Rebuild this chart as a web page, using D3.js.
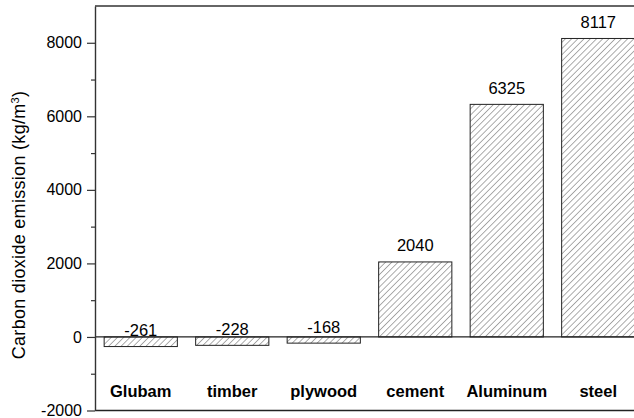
<!DOCTYPE html>
<html>
<head>
<meta charset="utf-8">
<script src="https://cdn.jsdelivr.net/npm/d3@7"></script>
<style>
  body { margin: 0; background: #fff; }
  svg { display: block; font-family: "Liberation Sans", Arial, sans-serif; }
</style>
</head>
<body>
<svg id="chart-svg"></svg>
<script>
const materials = ['Glubam', 'timber', 'plywood', 'cement', 'Aluminum', 'steel']
const emissions = [-261, -228, -168, 2040, 6325, 8117]
const majorTicks = [-2000, 0, 2000, 4000, 6000, 8000]
const minorTicks = [-1000, 1000, 3000, 5000, 7000]

const width = 634, height = 418
const margin = {left: 95, top: 6, right: -10, bottom: 7.5}

const svg = d3.select('#chart-svg')
    .attr('width', width)
    .attr('height', height)

const x = d3.scaleBand()
    .domain(materials)
    .range([margin.left, width - margin.right])
    .paddingInner(0.2)
    .paddingOuter(0.1)

const y = d3.scaleLinear()
    .domain([-2000, 9000])
    .range([height - margin.bottom, margin.top])

// hatch pattern for the bars
svg.append('defs').append('pattern')
    .attr('id', 'hatch')
    .attr('patternUnits', 'userSpaceOnUse')
    .attr('width', 4.4)
    .attr('height', 4.4)
    .attr('patternTransform', 'rotate(45)')
    .append('line')
    .attr('x1', 0).attr('y1', 0)
    .attr('x2', 0).attr('y2', 4.4)
    .attr('stroke', '#333')
    .attr('stroke-width', 0.8)

const data = materials.map((m, i) => ({name: m, value: emissions[i]}))

svg.append('g')
    .selectAll('rect')
    .data(data)
    .join('rect')
    .attr('x', d => x(d.name))
    .attr('width', x.bandwidth())
    .attr('y', d => y(Math.max(0, d.value)))
    .attr('height', d => Math.abs(y(d.value) - y(0)))
    .attr('fill', 'url(#hatch)')
    .attr('stroke', '#222')
    .attr('stroke-width', 1)

// value labels
svg.append('g')
    .selectAll('text')
    .data(data)
    .join('text')
    .attr('x', d => x(d.name) + x.bandwidth() / 2)
    .attr('y', d => y(d.value) - 10.5)
    .attr('text-anchor', 'middle')
    .attr('font-size', '16.5px')
    .attr('fill', '#000')
    .text(d => d.value)

// category labels
svg.append('g')
    .selectAll('text')
    .data(materials)
    .join('text')
    .attr('x', d => x(d) + x.bandwidth() / 2)
    .attr('y', 396.5)
    .attr('text-anchor', 'middle')
    .attr('font-size', '16.5px')
    .attr('font-weight', 'bold')
    .attr('fill', '#000')
    .text(d => d)

// zero line
svg.append('line')
    .attr('x1', margin.left).attr('x2', width)
    .attr('y1', y(0)).attr('y2', y(0))
    .attr('stroke', '#222')
    .attr('stroke-width', 1.2)

// frame top / bottom
svg.append('line')
    .attr('x1', margin.left).attr('x2', width)
    .attr('y1', y(9000)).attr('y2', y(9000))
    .attr('stroke', '#333').attr('stroke-width', 1.4)
svg.append('line')
    .attr('x1', margin.left).attr('x2', width)
    .attr('y1', y(-2000)).attr('y2', y(-2000))
    .attr('stroke', '#222').attr('stroke-width', 1.4)

// y axis
const yAxis = svg.append('g')
    .attr('transform', 'translate(' + margin.left + ',0)')
    .call(d3.axisLeft(y).tickValues(majorTicks).tickSize(8).tickPadding(5)
        .tickSizeOuter(0).tickFormat(d => String(d)))
yAxis.select('.domain').attr('stroke', '#333').attr('stroke-width', 1.4)
yAxis.selectAll('.tick line').attr('stroke', '#333').attr('stroke-width', 1.2)
yAxis.selectAll('.tick text').attr('font-size', '16px').attr('fill', '#000')
    .attr('font-family', '"Liberation Sans", Arial, sans-serif')

const minor = svg.append('g')
    .attr('transform', 'translate(' + margin.left + ',0)')
    .call(d3.axisLeft(y).tickValues(minorTicks).tickSize(4).tickFormat(''))
minor.select('.domain').remove()
minor.selectAll('.tick line').attr('stroke', '#333').attr('stroke-width', 1.2)

// y axis title
const title = svg.append('text')
    .attr('transform', 'translate(25,225) rotate(-90)')
    .attr('text-anchor', 'middle')
    .attr('font-size', '18px')
    .attr('letter-spacing', '0.3px')
    .attr('fill', '#000')
title.append('tspan').text('Carbon dioxide emission (kg/m')
title.append('tspan').attr('baseline-shift', 'super').attr('font-size', '11px').text('3')
title.append('tspan').text(')')
</script>
</body>
</html>
